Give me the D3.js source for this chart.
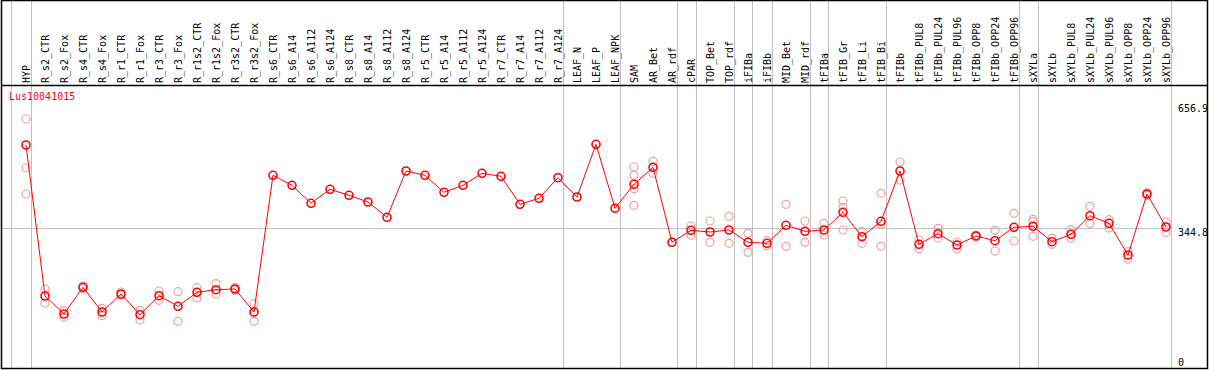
<!DOCTYPE html>
<html><head><meta charset="utf-8">
<script src="https://cdn.jsdelivr.net/npm/d3@7"></script>
<style>html,body{margin:0;padding:0;background:#fff;}svg{display:block;}text{font-family:"DejaVu Sans Mono",monospace;font-size:10px;}</style>
</head><body>
<script>
const categories = ["HYP","R_s2_CTR","R_s2_Fox","R_s4_CTR","R_s4_Fox","R_r1_CTR","R_r1_Fox","R_r3_CTR","R_r3_Fox","R_r1s2_CTR","R_r1s2_Fox","R_r3s2_CTR","R_r3s2_Fox","R_s6_CTR","R_s6_A14","R_s6_A112","R_s6_A124","R_s8_CTR","R_s8_A14","R_s8_A112","R_s8_A124","R_r5_CTR","R_r5_A14","R_r5_A112","R_r5_A124","R_r7_CTR","R_r7_A14","R_r7_A112","R_r7_A124","LEAF_N","LEAF_P","LEAF_NPK","SAM","AR_Bet","AR_rdf","cPAR","TOP_Bet","TOP_rdf","iFIBa","iFIBb","MID_Bet","MID_rdf","tFIBa","tFIB_Gr","tFIB_Li","tFIB_Bi","tFIBb","tFIBb_PUL8","tFIBb_PUL24","tFIBb_PUL96","tFIBb_OPP8","tFIBb_OPP24","tFIBb_OPP96","sXYLa","sXYLb","sXYLb_PUL8","sXYLb_PUL24","sXYLb_PUL96","sXYLb_OPP8","sXYLb_OPP24","sXYLb_OPP96"];
const meanValues = [554.1,175.5,130.4,197.3,135.4,180.5,128.6,176.3,149.7,184.8,191.3,193.1,135.4,478.1,453.1,407.9,443.0,428.0,411.2,372.8,488.9,478.1,435.5,453.1,483.2,475.6,405.4,420.5,472.1,423.7,555.9,395.4,455.6,498.2,310.2,340.2,336.0,341.0,310.2,307.6,352.8,337.7,341.0,385.4,324.2,362.8,488.9,305.1,331.7,303.4,326.0,314.2,347.8,350.3,311.7,330.2,376.8,357.8,278.3,431.3,348.5];
const replicateValues = [
 [619.3,496.4,431.3],[193.1,158.0],[138.7,122.1],[200.6,194.3],[144.7,126.1],[185.5,178.0],[139.7,115.3],[188.0,164.7],[186.3,112.1],[196.3,171.2],[206.4,180.5],[196.3,190.6],[156.2,112.1],
 [],[],[],[],[],[],[],[],[],[],[],[],[],[],[],[],[],[],[],
 [499.0,478.1,444.5,402.9],[513.2,483.2],[],[351.0,327.7],[363.6,310.2],[375.3,307.6],[332.7,285.1],[314.2,301.6],[405.4,300.1],[363.6,310.2],[357.8,328.5],[413.7,397.9,341.0],[336.7,307.6],[433.0,356.0,300.1],[511.5,466.4],
 [315.9,294.1],[345.3,320.9],[310.9,293.4],[328.5,323.4],[340.2,288.3],[382.9,313.4],[367.8,361.1,325.2],[320.2,305.1],[341.7,320.2],[400.4,357.8],[366.8,346.0],[286.6,268.3],[434.5,428.0],[361.1,335.2]
];
const separatorAfter = [-1,0,28,31,34,35,37,38,39,41,42,45,52,53,60];
const axisTicks = [656.9, 344.8, 0];
const gridValue = 344.8;
const geneName = "Lus10041015";

const W = 1209, H = 370;
const svg = d3.select("body").append("svg").attr("width", W).attr("height", H);

const x = d3.scaleLinear().domain([0, categories.length - 1]).range([26, 26 + 19 * (categories.length - 1)]);
const y = d3.scaleLinear().domain([0, 656.9]).range([366, 104]);
const plotRight = 1170.5;

// separators
svg.selectAll("line.sep").data(separatorAfter).join("line")
  .attr("x1", d => Math.round(x(d) + 4.5) + 0.5).attr("x2", d => Math.round(x(d) + 4.5) + 0.5)
  .attr("y1", 0).attr("y2", 368).attr("stroke", "#c0c0c0").attr("stroke-width", 1);

// grid line
svg.append("line").attr("x1", 1).attr("x2", plotRight).attr("y1", Math.round(y(gridValue)) + 0.5).attr("y2", Math.round(y(gridValue)) + 0.5)
  .attr("stroke", "#c0c0c0");

// frame
svg.append("rect").attr("x", 1.5).attr("y", 0.5).attr("width", 1206).attr("height", 368).attr("fill", "none").attr("stroke", "#000").attr("stroke-width", 1.5);
svg.append("line").attr("x1", 1).attr("x2", 1208).attr("y1", 85.5).attr("y2", 85.5).attr("stroke", "#000").attr("stroke-width", 1.5);

// header labels
svg.selectAll("text.cat").data(categories).join("text")
  .attr("transform", (d, i) => `translate(${x(i) + 4},83) rotate(-90)`)
  .attr("fill", "#000").text(d => d);

// axis labels
svg.selectAll("text.ax").data(axisTicks).join("text")
  .attr("x", 1178).attr("y", d => Math.min(y(d) + 8, 366)).attr("fill", "#000").text(d => d);

// gene name
svg.append("text").attr("x", 9).attr("y", 100).attr("fill", "#ff0000").text(geneName);

// replicates
const reps = [];
replicateValues.forEach((arr, i) => arr.forEach(v => reps.push({i, v})));
svg.selectAll("circle.rep").data(reps).join("circle")
  .attr("cx", d => x(d.i)).attr("cy", d => y(d.v)).attr("r", 4)
  .attr("fill", "none").attr("stroke", "#f0a0a0").attr("stroke-width", 1.2);

// line
svg.append("path").datum(meanValues)
  .attr("d", d3.line().x((d, i) => x(i)).y(d => y(d)))
  .attr("fill", "none").attr("stroke", "#ff0000").attr("stroke-width", 1);

// mean markers
svg.selectAll("circle.mean").data(meanValues).join("circle")
  .attr("cx", (d, i) => x(i)).attr("cy", d => y(d)).attr("r", 4)
  .attr("fill", "none").attr("stroke", "#ff0000").attr("stroke-width", 1.6);
</script>
</body></html>
